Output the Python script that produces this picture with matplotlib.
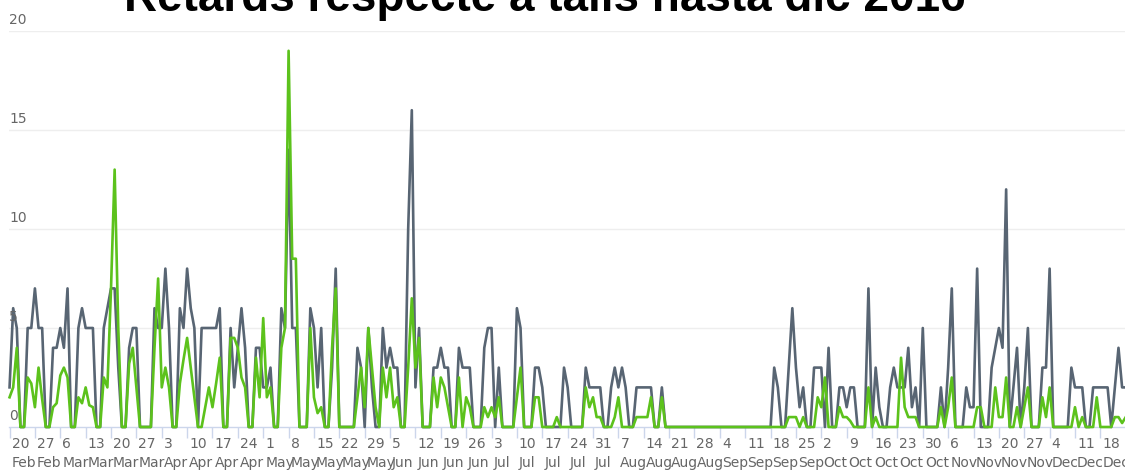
import numpy as np
import matplotlib
matplotlib.use("Agg")
import matplotlib.pyplot as plt
from matplotlib import transforms

title_text = "Retards respecte a talls hasta dic 2016"

grey_vals = [
    2, 6, 5, 0, 0, 5, 5, 7, 5, 5,
    0, 0, 4, 4, 5, 4, 7, 0, 0, 5,
    6, 5, 5, 5, 0, 0, 5, 6, 7, 7,
    3, 0, 0, 4, 5, 5, 0, 0, 0, 0,
    6, 5, 5, 8, 5, 0, 0, 6, 5, 8,
    6, 5, 0, 5, 5, 5, 5, 5, 6, 0,
    0, 5, 2, 4, 6, 4, 0, 0, 4, 4,
    2, 2, 3, 0, 0, 6, 5, 14, 5, 5,
    0, 0, 0, 6, 5, 2, 5, 0, 0, 3,
    8, 0, 0, 0, 0, 0, 4, 3, 0, 5,
    2, 0, 0, 5, 3, 4, 3, 3, 0, 0,
    10, 16, 2, 5, 0, 0, 0, 3, 3, 4,
    3, 3, 0, 0, 4, 3, 3, 3, 0, 0,
    0, 4, 5, 5, 0, 3, 0, 0, 0, 0,
    6, 5, 0, 0, 0, 3, 3, 2, 0, 0,
    0, 0, 0, 3, 2, 0, 0, 0, 0, 3,
    2, 2, 2, 2, 0, 0, 2, 3, 2, 3,
    2, 0, 0, 2, 2, 2, 2, 2, 0, 0,
    2, 0, 0, 0, 0, 0, 0, 0, 0, 0,
    0, 0, 0, 0, 0, 0, 0, 0, 0, 0,
    0, 0, 0, 0, 0, 0, 0, 0, 0, 0,
    0, 3, 2, 0, 0, 3, 6, 3, 1, 2,
    0, 0, 3, 3, 3, 0, 4, 0, 0, 2,
    2, 1, 2, 2, 0, 0, 0, 7, 0, 3,
    1, 0, 0, 2, 3, 2, 2, 2, 4, 1,
    2, 0, 5, 0, 0, 0, 0, 2, 0, 3,
    7, 0, 0, 0, 2, 1, 1, 8, 0, 0,
    0, 3, 4, 5, 4, 12, 0, 2, 4, 0,
    2, 5, 0, 0, 0, 3, 3, 8, 0, 0,
    0, 0, 0, 3, 2, 2, 2, 0, 0, 2,
    2, 2, 2, 2, 0, 2, 4, 2, 2,
]

green_vals = [
    1.5, 2, 4, 0, 0, 2.5, 2.2, 1, 3, 1.4,
    0, 0, 1, 1.2, 2.6, 3, 2.5, 0, 0, 1.5,
    1.2, 2, 1.1, 1, 0, 0, 2.5, 2, 7, 13,
    5, 0, 0, 3.2, 4, 2, 0, 0, 0, 0,
    4, 7.5, 2, 3, 2, 0, 0, 2.2, 3.4, 4.5,
    3, 1.5, 0, 0, 1, 2, 1, 2.2, 3.5, 0,
    0, 4.5, 4.5, 4, 2.5, 2, 0, 0, 3.5, 1.5,
    5.5, 1.5, 2, 0, 0, 4, 5, 19, 8.5, 8.5,
    0, 0, 0, 5, 1.5, 0.7, 1, 0, 0, 4,
    7, 0, 0, 0, 0, 0, 1.5, 3, 1, 5,
    3, 1, 0, 3, 1.5, 3, 1, 1.5, 0, 0,
    3, 6.5, 3, 4.5, 0, 0, 0, 2.5, 1, 2.5,
    2, 1, 0, 0, 2.5, 0, 1.5, 1, 0, 0,
    0, 1, 0.5, 1, 0.5, 1.5, 0, 0, 0, 0,
    1.5, 3, 0, 0, 0, 1.5, 1.5, 0, 0, 0,
    0, 0.5, 0, 0, 0, 0, 0, 0, 0, 2,
    1, 1.5, 0.5, 0.5, 0, 0, 0, 0.5, 1.5, 0,
    0, 0, 0, 0.5, 0.5, 0.5, 0.5, 1.5, 0, 0,
    1.5, 0, 0, 0, 0, 0, 0, 0, 0, 0,
    0, 0, 0, 0, 0, 0, 0, 0, 0, 0,
    0, 0, 0, 0, 0, 0, 0, 0, 0, 0,
    0, 0, 0, 0, 0, 0.5, 0.5, 0.5, 0, 0.5,
    0, 0, 0, 1.5, 1, 2.5, 0, 0, 0, 1,
    0.5, 0.5, 0.3, 0, 0, 0, 0, 2, 0, 0.5,
    0, 0, 0, 0, 0, 0, 3.5, 1, 0.5, 0.5,
    0.5, 0, 0, 0, 0, 0, 0, 1, 0, 1,
    2.5, 0, 0, 0, 0, 0, 0, 1, 1, 0,
    0, 0, 2, 0.5, 0.5, 2.5, 0, 0, 1, 0,
    1, 2, 0, 0, 0, 1.5, 0.5, 2, 0, 0,
    0, 0, 0, 0, 1, 0, 0.5, 0, 0, 0,
    1.5, 0, 0, 0, 0, 0.5, 0.5, 0.2, 0.5,
]

tick_days = [20, 27, 6, 13, 20, 27, 3, 10, 17, 24, 1, 8, 15, 22, 29, 5, 12, 19, 26,
             3, 10, 17, 24, 31, 7, 14, 21, 28, 4, 11, 18, 25, 2, 9, 16, 23, 30,
             6, 13, 20, 27, 4, 11, 18]
tick_months = (["Feb"] * 2 + ["Mar"] * 4 + ["Apr"] * 4 + ["May"] * 5 + ["Jun"] * 4 +
               ["Jul"] * 5 + ["Aug"] * 4 + ["Sep"] * 4 + ["Oct"] * 5 + ["Nov"] * 4 +
               ["Dec"] * 3)
y_ticks = [0, 5, 10, 15, 20]

GREY = "#586573"
GREEN = "#5cc21c"

W, H = 1125, 470
fig = plt.figure(figsize=(W / 100, H / 100), dpi=100)
ax_left, ax_bottom, ax_top = 9, 427, 31
ax = fig.add_axes([ax_left / W, 1 - ax_bottom / H, (W - ax_left) / W, (ax_bottom - ax_top) / H])

px_per_day = 3.624
x = np.arange(len(grey_vals))
ax.set_xlim(-0.15, -0.15 + (W - ax_left) / px_per_day)
ax.set_ylim(0, 20)

for v in y_ticks[1:]:
    ax.axhline(v, color="#eeeeee", lw=1.0, zorder=0)

ax.plot(x, grey_vals, color=GREY, lw=1.9, solid_joinstyle="round", clip_on=False, zorder=3)
ax.plot(x, green_vals, color=GREEN, lw=1.9, solid_joinstyle="round", clip_on=False, zorder=4)

for s in ["top", "right", "left"]:
    ax.spines[s].set_visible(False)
ax.spines["bottom"].set_color("#ccd6eb")
ax.spines["bottom"].set_linewidth(1.0)
ax.spines["bottom"].set_zorder(1)

tick_pos = x[::7][:len(tick_days)]
ax.set_xticks(tick_pos)
ax.set_xticklabels([f"{d}\n{m}" for d, m in zip(tick_days, tick_months)],
                   ha="left", linespacing=1.5)
ax.tick_params(axis="x", length=8, width=1, color="#ccd6eb", labelcolor="#666666",
               labelsize=10, pad=-1)
shift = transforms.ScaledTranslation(2 / 100, 0, fig.dpi_scale_trans)
for lab in ax.get_xticklabels():
    lab.set_transform(lab.get_transform() + shift)
ax.set_yticks([])

blend = transforms.blended_transform_factory(fig.transFigure, ax.transData)
ytr = transforms.offset_copy(blend, fig=fig, x=0, y=4, units="dots")
for v in y_ticks:
    ax.text(9 / W, v, str(v), transform=ytr, ha="left", va="bottom",
            fontsize=10, color="#666666", clip_on=False)

fig.text(545 / W, 1 - 11 / H, title_text, ha="center", va="baseline",
         fontsize=33, fontweight="bold", family="Liberation Sans", color="#000000")

fig.savefig("out.png", dpi=100)
